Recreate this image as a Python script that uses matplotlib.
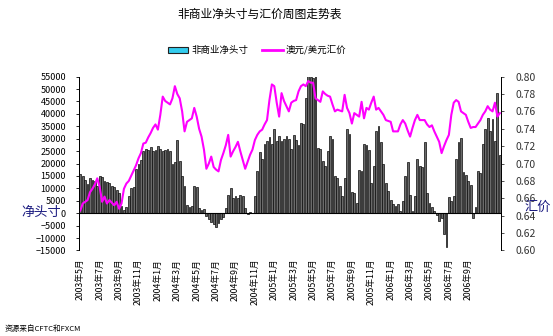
import matplotlib
matplotlib.use("Agg")
import matplotlib.pyplot as plt
import numpy as np
from matplotlib.patches import Patch
from matplotlib.lines import Line2D

plt.rcParams['font.family'] = ['Noto Sans CJK SC', 'DejaVu Sans']

# weekly non-commercial net position (contracts)
net_pos = [15600, 15000, 13500, 11700, 14000, 13500, 13000, 11000, 15000, 14500,
           13000, 12500, 12000, 11000, 10500, 9500, 8000, 3000, 1500, 2500,
           7000, 10000, 10500, 18000, 20000, 21500, 25000, 26000, 25500, 26500,
           25000, 25500, 27000, 26000, 25000, 25500, 26000, 25000, 20000, 20500,
           29500, 21000, 15000, 11000, 3500, 2500, 3000, 11000, 10500, 2000,
           1500, 1800, -1000, -2500, -3500, -4500, -5500, -4000, -2500, -1500,
           2000, 7500, 10000, 6000, 7000, 6000, 7500, 7000, 2000, -500,
           300, 200, 7000, 17000, 24500, 22000, 28000, 29000, 30500, 28000,
           34000, 29000, 31000, 29000, 30000, 30900, 30000, 26000, 31600, 29500,
           27500, 36400, 36000, 46500, 55800, 55000, 54500, 55500, 26400, 26000,
           21000, 19000, 25000, 31000, 30000, 15000, 14000, 11000, 7000, 14000,
           34000, 32000, 8500, 8000, 4000, 17500, 17000, 28000, 27500, 25500,
           12000, 19000, 33000, 35000, 28700, 20000, 12000, 9000, 5400, 3600,
           3000, 3600, 700, 4800, 15000, 20500, 7300, 700, 7000, 21800,
           19200, 18800, 28700, 8000, 4000, 2500, 1000, -700, -3300, -2000,
           -8500, -13500, 6700, 5000, 7000, 21800, 28800, 30300, 16500, 15500,
           13000, 11400, -2000, 2700, 16800, 16000, 28000, 33800, 38500, 33000,
           38000, 29000, 48400, 23500]

# AUD/USD weekly close
audusd = [0.646, 0.654, 0.656, 0.658, 0.667, 0.671, 0.676, 0.683, 0.673, 0.656,
          0.662, 0.654, 0.658, 0.655, 0.652, 0.656, 0.648, 0.654, 0.671, 0.677,
          0.680, 0.686, 0.692, 0.698, 0.706, 0.712, 0.723, 0.724, 0.730, 0.735,
          0.741, 0.745, 0.739, 0.756, 0.777, 0.772, 0.770, 0.768, 0.775, 0.789,
          0.780, 0.775, 0.760, 0.737, 0.748, 0.750, 0.752, 0.764, 0.754, 0.740,
          0.731, 0.716, 0.694, 0.700, 0.708, 0.696, 0.693, 0.691, 0.704, 0.712,
          0.721, 0.733, 0.708, 0.714, 0.719, 0.725, 0.714, 0.704, 0.694, 0.702,
          0.710, 0.716, 0.727, 0.733, 0.737, 0.739, 0.745, 0.750, 0.773, 0.791,
          0.789, 0.770, 0.754, 0.781, 0.772, 0.766, 0.760, 0.770, 0.772, 0.773,
          0.783, 0.789, 0.791, 0.789, 0.795, 0.793, 0.793, 0.775, 0.773, 0.771,
          0.783, 0.780, 0.778, 0.777, 0.768, 0.760, 0.762, 0.761, 0.760, 0.779,
          0.764, 0.758, 0.746, 0.758, 0.756, 0.754, 0.771, 0.752, 0.764, 0.762,
          0.770, 0.777, 0.762, 0.764, 0.760, 0.756, 0.750, 0.749, 0.748, 0.737,
          0.737, 0.737, 0.745, 0.750, 0.746, 0.738, 0.731, 0.741, 0.750, 0.756,
          0.750, 0.750, 0.750, 0.745, 0.742, 0.744, 0.737, 0.731, 0.725, 0.712,
          0.720, 0.727, 0.733, 0.756, 0.770, 0.773, 0.771, 0.760, 0.758, 0.756,
          0.748, 0.741, 0.742, 0.742, 0.746, 0.750, 0.756, 0.760, 0.766, 0.762,
          0.760, 0.770, 0.754, 0.758]

tick_labels = ["2003年5月", "2003年7月", "2003年9月", "2003年11月",
               "2004年1月", "2004年3月", "2004年5月", "2004年7月", "2004年9月", "2004年11月",
               "2005年1月", "2005年3月", "2005年5月", "2005年7月", "2005年9月", "2005年11月",
               "2006年1月", "2006年3月", "2006年5月", "2006年7月", "2006年9月"]
label_step = 8

x = np.arange(len(net_pos))

fig = plt.figure(figsize=(5.53, 3.36), dpi=100)
ax = fig.add_axes([0.143, 0.2545, 0.763, 0.5175])
ax2 = ax.twinx()

ax.bar(x, net_pos, width=0.75, color='#6a6a6a', edgecolor='#0a0a0a', linewidth=0.5)
ax.axhline(0, color='black', lw=0.8)
ax.set_xlim(-0.5, len(net_pos) - 0.5)
ax.set_ylim(-15000, 55000)
ax.set_yticks(np.arange(-15000, 55001, 5000))
ax.tick_params(axis='y', labelsize=6.5, length=2.5, pad=7, width=0.6)

ax.set_xticks(x[::label_step][:len(tick_labels)])
ax.set_xticklabels(tick_labels, rotation=90, fontsize=6.3)
ax.tick_params(axis='x', length=0, pad=6)

ax2.plot(x, audusd, color='#FF00FF', lw=1.5)
ax2.set_ylim(0.60, 0.80)
ax2.set_yticks(np.arange(0.60, 0.8001, 0.02))
ax2.set_yticklabels(["%.2f" % v for v in np.arange(0.60, 0.8001, 0.02)])
ax2.tick_params(axis='y', labelsize=7.5, length=2.5, pad=8, width=0.6, colors='#333333')

for a in (ax, ax2):
    a.spines['top'].set_visible(False)
    a.spines['bottom'].set_visible(False)
    a.spines['left'].set_linewidth(0.7)
    a.spines['right'].set_linewidth(0.7)

fig.text(0.47, 0.958, "非商业净头寸与汇价周图走势表", ha='center', va='center', fontsize=8.5)
fig.text(0.074, 0.369, "净头寸", ha='center', va='center', fontsize=9.5, color='#1a1a80')
fig.text(0.972, 0.384, "汇价", ha='center', va='center', fontsize=9.5, color='#1a1a80')
fig.text(0.008, 0.022, "资源来自CFTC和FXCM", ha='left', va='center', fontsize=5.5)

handles = [Patch(facecolor='#33CCEE', edgecolor='#222222', linewidth=0.8),
           Line2D([], [], color='#FF00FF', lw=2)]
fig.legend(handles, ["非商业净头寸", "澳元/美元汇价"], loc='center', bbox_to_anchor=(0.465, 0.851),
           ncol=2, frameon=False, fontsize=6.8, handlelength=2.2, handleheight=0.6,
           columnspacing=1.5, handletextpad=0.3)

fig.savefig("out.png", dpi=100)
